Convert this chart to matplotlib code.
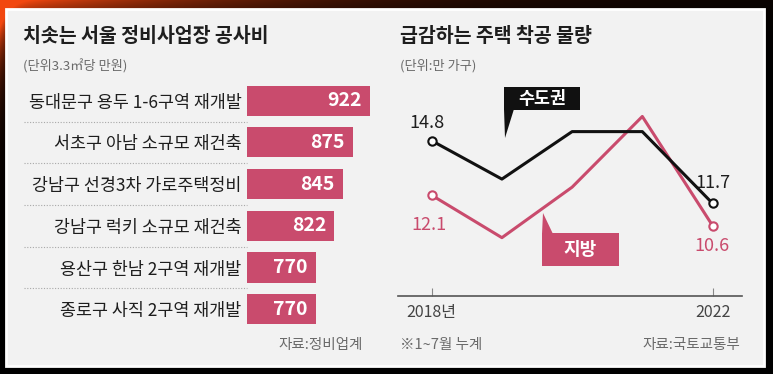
import numpy as np
import matplotlib.pyplot as plt
from matplotlib.patches import Rectangle, Polygon

plt.rcParams['font.family'] = ['Noto Sans CJK KR', 'DejaVu Sans']

# left chart data
sites = ['동대문구 용두 1-6구역 재개발', '서초구 아남 소규모 재건축', '강남구 선경3차 가로주택정비',
         '강남구 럭키 소규모 재건축', '용산구 한남 2구역 재개발', '종로구 사직 2구역 재개발']
costs = [922, 875, 845, 822, 770, 770]

# right chart data
years = [2018, 2019, 2020, 2021, 2022]
capital = [14.8, 12.9, 15.25, 15.25, 11.7]
local = [12.1, 10.0, 12.5, 16.0, 10.6]
year_labels = ['2018년', '2022']

RED = '#c94b6d'
DARK = '#1e1e1e'
GRAY = '#6a6a6a'
W, H = 773, 374

fig = plt.figure(figsize=(W / 100, H / 100), dpi=100, facecolor='black')

# background frame with red glow along the top-left
bg = fig.add_axes([0, 0, 1, 1], zorder=0)
yy, xx = np.mgrid[0:H, 0:W]
glow = np.exp(-xx / 230.0) * np.exp(-yy / 30.0) + 0.8 * np.exp(-xx / 8.0) * np.exp(-yy / 50.0)
glow = np.clip(glow * 1.1, 0, 1)
img = np.dstack([glow * 0.95, glow * 0.28, glow * 0.06])
bg.imshow(img, extent=(0, W, H, 0), aspect='auto')
bg.set_xlim(0, W)
bg.set_ylim(H, 0)
bg.axis('off')
bg.add_patch(Rectangle((6, 9), 758, 357, facecolor='#f2f2f2', edgecolor='white', lw=2))

# titles and notes
bg.text(23, 36, '치솟는 서울 정비사업장 공사비', fontsize=14, fontweight='bold', color=DARK, va='center')
bg.text(23, 66, '(단위3.3㎡당 만원)', fontsize=9.5, color=GRAY, va='center')
bg.text(400, 36, '급감하는 주택 착공 물량', fontsize=14, fontweight='bold', color=DARK, va='center')
bg.text(400, 66, '(단위:만 가구)', fontsize=9.5, color=GRAY, va='center')
bg.text(363, 345, '자료:정비업계', fontsize=10.5, color=GRAY, va='center', ha='right')
bg.text(400, 345, '※1~7월 누계', fontsize=10.5, color=GRAY, va='center')
bg.text(740, 345, '자료:국토교통부', fontsize=10.5, color=GRAY, va='center', ha='right')

# bar chart
ax = fig.add_axes([247 / W, 1 - 330 / H, 133 / W, 250 / H], zorder=2)
ax.patch.set_alpha(0)
ypos = np.arange(len(costs))
ax.barh(ypos, costs, height=0.72, color=RED, left=0)
ax.set_xlim(577, 949.5)
ax.set_ylim(5.5, -0.5)
for y, v in zip(ypos, costs):
    ax.annotate(str(v), (v, y), xytext=(-6, 0), textcoords='offset points',
                ha='right', va='center', color='white', fontsize=14, fontweight='bold')
ax.set_yticks(ypos)
ax.set_yticklabels(sites, fontsize=12.5, color=DARK)
ax.tick_params(axis='y', length=0, pad=4)
ax.set_xticks([])
for s in ax.spines.values():
    s.set_visible(False)
ax.hlines(ypos[:-1] + 0.5, -1.68, 0, transform=ax.get_yaxis_transform(),
          colors='#a8a8a8', linestyles=(0, (1, 1.5)), lw=0.8, clip_on=False)

# line chart
lx = fig.add_axes([398 / W, 1 - 296 / H, 344 / W, 216 / H], zorder=2)
lx.patch.set_alpha(0)
lx.plot(years, capital, color='#111111', lw=2.2, marker='o', markevery=[0, 4],
        markersize=6, markerfacecolor='white', markeredgewidth=1.5, zorder=4)
lx.plot(years, local, color=RED, lw=2.2, marker='o', markevery=[0, 4],
        markersize=6, markerfacecolor='white', markeredgewidth=1.5, zorder=3)
lx.set_xlim(2017.52, 2022.42)
lx.set_ylim(7.112, 17.805)
for s in ['top', 'left', 'right']:
    lx.spines[s].set_visible(False)
lx.spines['bottom'].set_color('#555555')
lx.spines['bottom'].set_linewidth(1.2)
lx.set_yticks([])
lx.set_xticks([years[0], years[-1]])
lx.set_xticklabels(year_labels, fontsize=11.5, color='#444444')
lx.tick_params(axis='x', direction='in', length=6, color='#888888', pad=6)

lx.annotate(f'{capital[0]}', (years[0], capital[0]), xytext=(-3.5, 13), textcoords='offset points',
            ha='center', va='center', fontsize=13, color=DARK)
lx.annotate(f'{capital[-1]}', (years[-1], capital[-1]), xytext=(0.5, 14.5), textcoords='offset points',
            ha='center', va='center', fontsize=13, color=DARK)
lx.annotate(f'{local[0]}', (years[0], local[0]), xytext=(-2, -21.5), textcoords='offset points',
            ha='center', va='center', fontsize=13, color=RED)
lx.annotate(f'{local[-1]}', (years[-1], local[-1]), xytext=(-0.5, -14.8), textcoords='offset points',
            ha='center', va='center', fontsize=13, color=RED)

# callout labels
top = fig.add_axes([0, 0, 1, 1], zorder=5)
top.set_xlim(0, W)
top.set_ylim(H, 0)
top.axis('off')
top.patch.set_alpha(0)
top.add_patch(Rectangle((504, 87), 76, 23, facecolor='#111111', edgecolor='none'))
top.add_patch(Polygon([(504, 109), (514, 109), (505, 138)], closed=True, facecolor='#111111', edgecolor='none'))
top.text(542, 98.5, '수도권', color='white', fontsize=12.5, fontweight='bold', ha='center', va='center')
top.add_patch(Rectangle((542, 233), 77, 33, facecolor=RED, edgecolor='none'))
top.add_patch(Polygon([(542, 234), (553, 234), (543, 213)], closed=True, facecolor=RED, edgecolor='none'))
top.text(580.5, 249.5, '지방', color='white', fontsize=13, fontweight='bold', ha='center', va='center')

fig.savefig('out.png', dpi=100, facecolor='black')
